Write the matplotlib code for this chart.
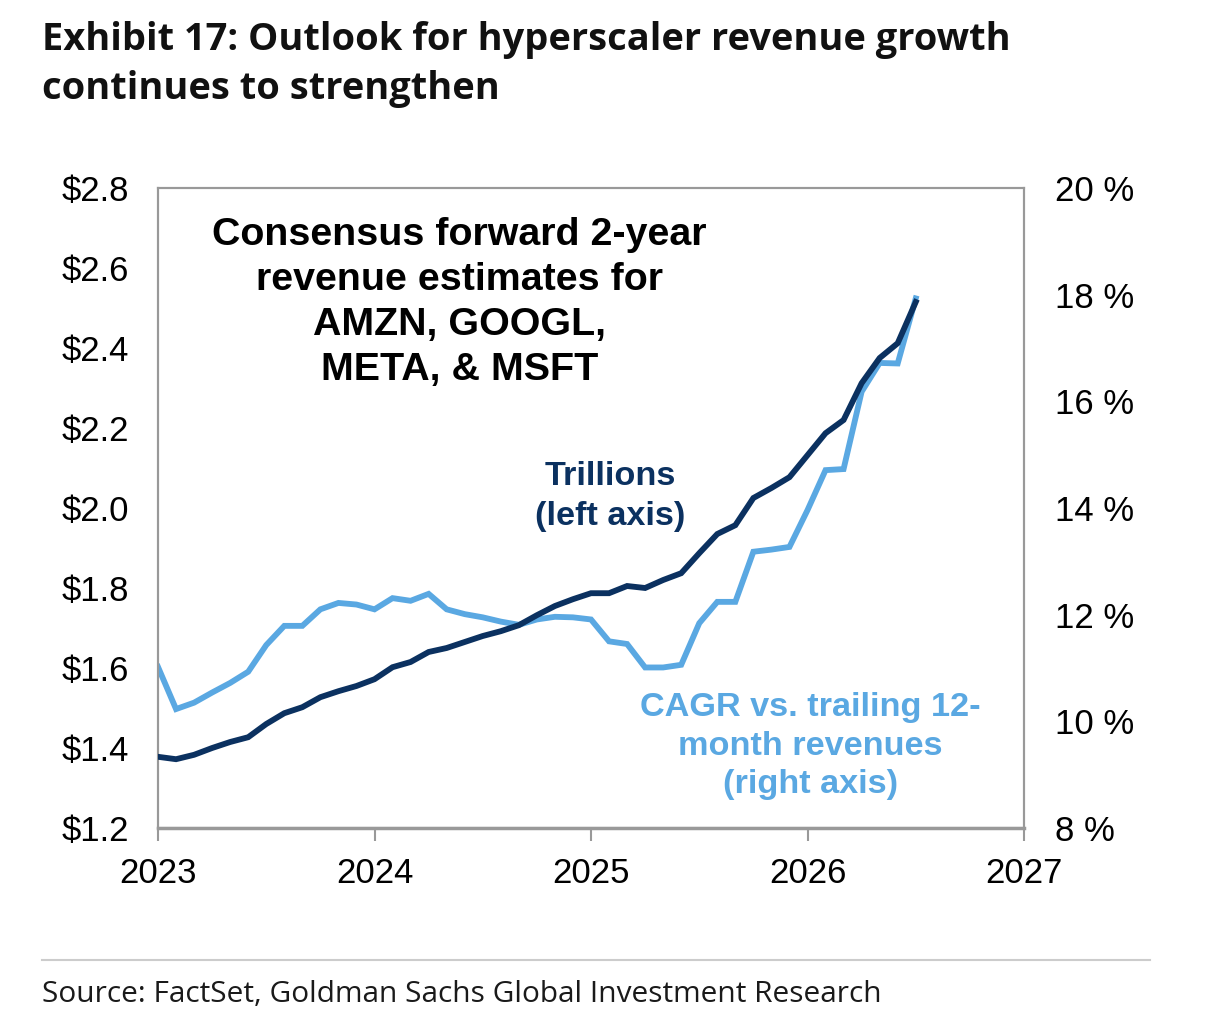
import numpy as np
import matplotlib.pyplot as plt
from matplotlib.lines import Line2D

# Monthly data, Jan 2023 .. Jul 2026
months = np.arange(43)
revenue_trn = [1.378, 1.372, 1.383, 1.400, 1.415, 1.427, 1.460, 1.487, 1.502, 1.527,
               1.542, 1.555, 1.572, 1.602, 1.615, 1.640, 1.650, 1.665, 1.680, 1.692,
               1.707, 1.732, 1.755, 1.772, 1.787, 1.787, 1.805, 1.800, 1.820, 1.837,
               1.887, 1.935, 1.957, 2.025, 2.050, 2.077, 2.132, 2.187, 2.220, 2.312,
               2.375, 2.412, 2.515]
cagr_pct = [11.02, 10.23, 10.35, 10.54, 10.72, 10.93, 11.43, 11.79, 11.79, 12.10,
            12.22, 12.19, 12.10, 12.31, 12.26, 12.39, 12.10, 12.01, 11.95, 11.87,
            11.81, 11.91, 11.96, 11.95, 11.91, 11.50, 11.45, 11.01, 11.01, 11.06,
            11.84, 12.24, 12.24, 13.18, 13.22, 13.27, 13.96, 14.71, 14.73, 16.18,
            16.72, 16.71, 17.93]
x_years = 2023 + months / 12.0

year_ticks = [2023, 2024, 2025, 2026, 2027]
left_ticks = [1.2, 1.4, 1.6, 1.8, 2.0, 2.2, 2.4, 2.6, 2.8]
right_ticks = [8, 10, 12, 14, 16, 18, 20]

DARK = "#0b3160"
LIGHT = "#5aa8e2"
FRAME = "#999999"

fig = plt.figure(figsize=(12.06, 10.31), dpi=100)
ax = fig.add_axes([158 / 1206, 1 - 828 / 1031, (1024 - 158) / 1206, (828 - 188) / 1031])
ax2 = ax.twinx()

ax.plot(x_years, revenue_trn, color=DARK, lw=4.2, solid_joinstyle="miter", zorder=3)
ax2.plot(x_years, cagr_pct, color=LIGHT, lw=4.2, solid_joinstyle="miter", zorder=2)
ax.set_zorder(ax2.get_zorder() + 1)
ax.patch.set_visible(False)

ax.set_xlim(2023, 2027)
ax.set_ylim(1.2, 2.8)
ax2.set_ylim(8, 20)

tick_font = dict(family="Liberation Sans", size=25)
ax.set_xticks(year_ticks)
ax.set_xticklabels([str(y) for y in year_ticks], **tick_font)
ax.set_yticks(left_ticks)
ax.set_yticklabels(["$%.1f" % v for v in left_ticks], **tick_font)
ax2.set_yticks(right_ticks)
ax2.set_yticklabels(["%d %%" % v for v in right_ticks], **tick_font)

ax.tick_params(axis="x", length=9, width=1.5, color=FRAME, direction="out", pad=12)
ax.tick_params(axis="y", length=0, pad=21)
ax2.tick_params(axis="y", length=0, pad=22)
for a in (ax, ax2):
    for s in a.spines.values():
        s.set_color(FRAME)
        s.set_linewidth(1.5)
ax.spines["bottom"].set_linewidth(2.5)

ax.text(0.348, 0.955, "Consensus forward 2-year\nrevenue estimates for\nAMZN, GOOGL,\nMETA, & MSFT",
        transform=ax.transAxes, ha="center", va="top", family="Liberation Sans",
        weight="bold", size=28.4, color="black", linespacing=1.32)
ax.text(0.522, 0.573, "Trillions\n(left axis)", transform=ax.transAxes, ha="center", va="top",
        family="Liberation Sans", weight="bold", size=24.7, color=DARK, linespacing=1.35)
ax.text(0.753, 0.212, "CAGR vs. trailing 12-\nmonth revenues\n(right axis)", transform=ax.transAxes,
        ha="center", va="top", family="Liberation Sans", weight="bold", size=24.7, color=LIGHT,
        linespacing=1.3)

title_font = ["Open Sans", "DejaVu Sans"]
fig.text(42 / 1206, 1 - 21 / 1031, "Exhibit 17: Outlook for hyperscaler revenue growth\ncontinues to strengthen",
         ha="left", va="top", family=title_font, weight="bold", size=27.4, color="#111111",
         linespacing=1.38)
fig.add_artist(Line2D([42 / 1206, 1150 / 1206], [1 - 960 / 1031, 1 - 960 / 1031],
                      color="#cccccc", lw=1.5, transform=fig.transFigure))
fig.text(42 / 1206, 1 - 994 / 1031, "Source: FactSet, Goldman Sachs Global Investment Research",
         ha="left", va="center", family=title_font, size=21.5, color="#1a1a1a")

fig.savefig("out.png", dpi=100, facecolor="white")
